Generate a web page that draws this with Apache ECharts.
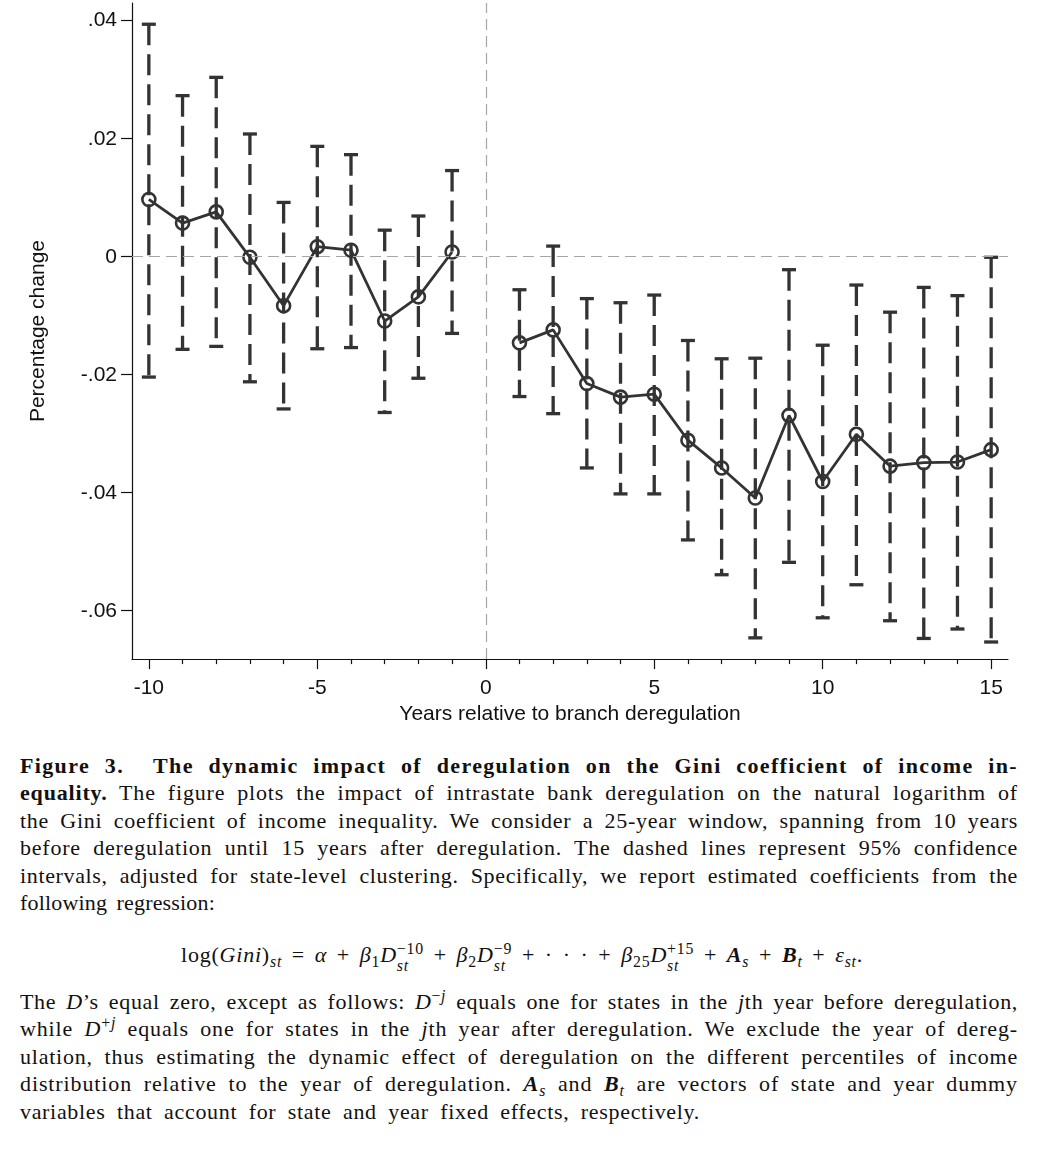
<!DOCTYPE html>
<html>
<head>
<meta charset="utf-8">
<script src="https://cdn.jsdelivr.net/npm/echarts@6/dist/echarts.min.js"></script>
<style>
  html, body { margin:0; padding:0; background:#fff; }
  body { width:1050px; height:1150px; position:relative; overflow:hidden; }
  #chart { position:absolute; left:0; top:0; width:1050px; height:730px; }
  .cap { position:absolute; left:20px; width:1010px; font-family:"Liberation Serif","Times New Roman",serif; font-size:22px; line-height:27.4px; color:#111; }
  .ln { white-space:nowrap; display:block; }
  .ln > span.fit { display:inline-block; white-space:nowrap; }
  .eq { position:absolute; font-family:"Liberation Serif",serif; font-size:22px; line-height:27px; color:#111; white-space:nowrap; }
  sub, sup { font-size:0.72em; line-height:0; }
  .ss { display:inline-block; vertical-align:-0.55em; font-size:0.72em; line-height:1.05; text-align:left; }
  .ss span { display:block; }
</style>
</head>
<body>
<div id="chart"></div>

<div class="cap" style="top:752px;">
  <div class="ln"><span class="fit" data-w="998"><b>Figure 3.&nbsp; The dynamic impact of deregulation on the Gini coefficient of income in-</b></span></div>
  <div class="ln"><span class="fit" data-w="998"><b>equality.</b> The figure plots the impact of intrastate bank deregulation on the natural logarithm of</span></div>
  <div class="ln"><span class="fit" data-w="998">the Gini coefficient of income inequality. We consider a 25-year window, spanning from 10 years</span></div>
  <div class="ln"><span class="fit" data-w="998">before deregulation until 15 years after deregulation. The dashed lines represent 95% confidence</span></div>
  <div class="ln"><span class="fit" data-w="998">intervals, adjusted for state-level clustering. Specifically, we report estimated coefficients from the</span></div>
  <div class="ln"><span class="fit" data-w="195">following regression:</span></div>
</div>

<div class="eq" id="eq" style="top:941px; left:181px;">
  <span class="fit" data-w="682">log(<i>Gini</i>)<sub><i>st</i></sub> = <i>α</i> + <i>β</i><sub>1</sub><i>D</i><span class="ss"><span>−10</span><span><i>st</i></span></span> + <i>β</i><sub>2</sub><i>D</i><span class="ss"><span>−9</span><span><i>st</i></span></span> + · · · + <i>β</i><sub>25</sub><i>D</i><span class="ss"><span>+15</span><span><i>st</i></span></span> + <b><i>A</i></b><sub><i>s</i></sub> + <b><i>B</i></b><sub><i>t</i></sub> + <i>ε</i><sub><i>st</i></sub>.</span>
</div>

<div class="cap" style="top:988px;">
  <div class="ln"><span class="fit" data-w="998">The <i>D</i>’s equal zero, except as follows: <i>D</i><sup>−<i>j</i></sup> equals one for states in the <i>j</i>th year before deregulation,</span></div>
  <div class="ln"><span class="fit" data-w="998">while <i>D</i><sup>+<i>j</i></sup> equals one for states in the <i>j</i>th year after deregulation. We exclude the year of dereg-</span></div>
  <div class="ln"><span class="fit" data-w="998">ulation, thus estimating the dynamic effect of deregulation on the different percentiles of income</span></div>
  <div class="ln"><span class="fit" data-w="998">distribution relative to the year of deregulation. <b><i>A</i></b><sub><i>s</i></sub> and <b><i>B</i></b><sub><i>t</i></sub> are vectors of state and year dummy</span></div>
  <div class="ln"><span class="fit" data-w="680">variables that account for state and year fixed effects, respectively.</span></div>
</div>

<script>
// ---- Data ----
const years = [-10,-9,-8,-7,-6,-5,-4,-3,-2,-1,1,2,3,4,5,6,7,8,9,10,11,12,13,14,15];
const coef  = [0.0097,0.0057,0.0076,-0.0001,-0.0083,0.0017,0.0011,-0.0109,-0.0068,0.0008,
               -0.0146,-0.0124,-0.0215,-0.0238,-0.0233,-0.0311,-0.0358,-0.0409,-0.0269,-0.0381,
               -0.0301,-0.0355,-0.0349,-0.0348,-0.0327];
const ciLow = [-0.0204,-0.0157,-0.0152,-0.0212,-0.0258,-0.0156,-0.0154,-0.0264,-0.0206,-0.0130,
               -0.0237,-0.0266,-0.0358,-0.0402,-0.0402,-0.0480,-0.0539,-0.0646,-0.0518,-0.0612,
               -0.0556,-0.0617,-0.0647,-0.0631,-0.0653];
const ciHigh = [0.0394,0.0273,0.0304,0.0208,0.0092,0.0187,0.0173,0.0045,0.0069,0.0146,
               -0.0056,0.0018,-0.0071,-0.0078,-0.0065,-0.0142,-0.0173,-0.0172,-0.0022,-0.0150,
               -0.0048,-0.0094,-0.0052,-0.0066,-0.0001];
const xMajorTicks = [-10,-5,0,5,10,15];
const xMinorTicks = [-9,-8,-7,-6,-4,-3,-2,-1,1,2,3,4,6,7,8,9,11,12,13,14];
const yTicks = [-0.06,-0.04,-0.02,0,0.02,0.04];

// ---- Fit caption lines to their widths (half letter spacing, half word spacing) ----
document.querySelectorAll('.fit').forEach(el => {
  const target = parseFloat(el.dataset.w);
  const raw = el.textContent;
  const n = Math.max(1, raw.replace(/\s+/g,' ').trim().length);
  const spaces = Math.max(1, (raw.match(/[ \u00a0]/g) || []).length);
  const w = el.getBoundingClientRect().width;
  let ls = ((target - w) * 0.5) / n;
  ls = Math.max(-1, Math.min(2, ls));
  el.style.letterSpacing = ls.toFixed(3) + 'px';
  let ws = 0;
  for (let k = 0; k < 3; k++) {
    const cur = el.getBoundingClientRect().width;
    ws += (target - cur) / spaces;
    ws = Math.max(-3, Math.min(14, ws));
    el.style.wordSpacing = ws.toFixed(3) + 'px';
  }
});

// ---- Build ----
const lineData = [];
years.forEach((y,i) => {
  if (y === 1) lineData.push([0,'-']);
  lineData.push([y, coef[i]]);
});
const ciData = years.map((y,i) => [y, ciLow[i], ciHigh[i]]);

function yFmt(v){
  if (Math.abs(v) < 1e-9) return '0';
  const s = Math.abs(v).toFixed(2).replace(/^0/, '');
  return (v < 0 ? '-' : '') + s;
}

const FONT = '"Liberation Sans", Arial, Helvetica, sans-serif';
const DARK = '#333333';

const chart = echarts.init(document.getElementById('chart'), null, {renderer:'canvas'});
chart.setOption({
  animation:false,
  backgroundColor:'#fff',
  grid:{ left:132, right:42, top:3, height:657 },
  xAxis:[{
    type:'value', min:-10.5, max:15.5,
    name:'Years relative to branch deregulation', nameLocation:'middle', nameGap:40,
    nameTextStyle:{ fontFamily:FONT, fontSize:21, color:'#111' },
    axisLine:{ show:true, onZero:false, lineStyle:{ color:'#111', width:1.2 } },
    axisTick:{ show:true, length:10, customValues:xMajorTicks, lineStyle:{ color:'#111', width:1.2 } },
    axisLabel:{ show:true, customValues:xMajorTicks, margin:19, fontFamily:FONT, fontSize:21, color:'#111' },
    splitLine:{ show:false }
  },{
    type:'value', min:-10.5, max:15.5, position:'bottom', gridIndex:0,
    axisLine:{ show:false, onZero:false },
    axisTick:{ show:true, length:5, customValues:xMinorTicks, lineStyle:{ color:'#111', width:1.2 } },
    axisLabel:{ show:false },
    splitLine:{ show:false }
  }],
  yAxis:{
    type:'value', min:-0.0682, max:0.043,
    name:'Percentage change', nameLocation:'middle', nameGap:83, nameRotate:90,
    nameTextStyle:{ fontFamily:FONT, fontSize:21, color:'#111' },
    axisLine:{ show:true, onZero:false, lineStyle:{ color:'#111', width:1.2 } },
    axisTick:{ show:true, length:11, customValues:yTicks, lineStyle:{ color:'#111', width:1.2 } },
    axisLabel:{ show:true, customValues:yTicks, margin:15, formatter:yFmt, fontFamily:FONT, fontSize:21, color:'#111' },
    splitLine:{ show:false }
  },
  series:[
    {
      type:'line', data:[], z:1, silent:true,
      markLine:{
        silent:true, symbol:'none', label:{show:false},
        lineStyle:{ type:[11,6], color:'#a6a6a6', width:1.2 },
        data:[{ xAxis:0 }, { yAxis:0 }]
      }
    },
    {
      type:'custom', z:2, silent:true,
      data:ciData,
      encode:{ x:0, y:[1,2] },
      renderItem:function(params, api){
        const x = api.value(0), lo = api.value(1), hi = api.value(2);
        const pHi = api.coord([x, hi]);
        const pLo = api.coord([x, lo]);
        const cw = 7;
        const solid = { stroke:DARK, lineWidth:3.3 };
        return { type:'group', children:[
          { type:'line', shape:{ x1:pHi[0], y1:pHi[1], x2:pLo[0], y2:pLo[1] },
            style:{ stroke:DARK, lineWidth:3.3, lineDash:[21,9] } },
          { type:'line', shape:{ x1:pHi[0]-cw, y1:pHi[1], x2:pHi[0]+cw, y2:pHi[1] }, style:solid },
          { type:'line', shape:{ x1:pLo[0]-cw, y1:pLo[1], x2:pLo[0]+cw, y2:pLo[1] }, style:solid }
        ]};
      }
    },
    {
      type:'line', z:3, silent:true,
      data:lineData, connectNulls:false,
      symbol:'circle', symbolSize:13, showAllSymbol:true,
      lineStyle:{ color:DARK, width:2.8 },
      itemStyle:{ color:'rgba(0,0,0,0)', borderColor:DARK, borderWidth:2.6 }
    }
  ]
});
</script>
</body>
</html>
